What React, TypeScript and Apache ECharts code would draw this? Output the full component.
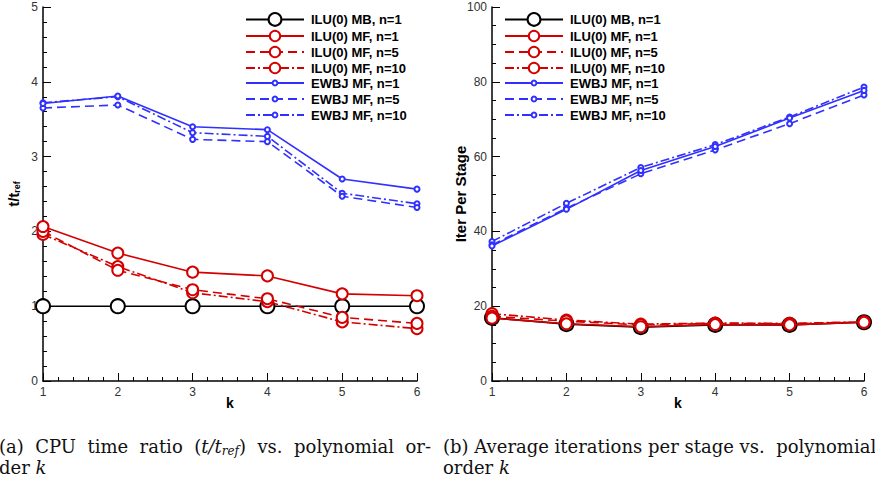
import React, { useEffect, useRef } from "react";
import * as echarts from "echarts";

const K = [1, 2, 3, 4, 5, 6];

// (a) CPU time ratio
const a_iluMB1 = [1.0, 1.0, 1.0, 1.0, 1.0, 1.0];
const a_iluMF1 = [2.065, 1.71, 1.455, 1.405, 1.165, 1.14];
const a_iluMF5 = [2.0, 1.48, 1.22, 1.1, 0.85, 0.77];
const a_iluMF10 = [1.96, 1.53, 1.18, 1.06, 0.79, 0.7];
const a_ewbj1 = [3.71, 3.81, 3.4, 3.36, 2.7, 2.565];
const a_ewbj5 = [3.65, 3.69, 3.23, 3.2, 2.47, 2.32];
const a_ewbj10 = [3.72, 3.8, 3.32, 3.27, 2.51, 2.37];

// (b) Iterations per stage
const b_iluMB1 = [16.9, 15.2, 14.4, 15.0, 15.0, 15.7];
const b_iluMF1 = [16.8, 15.3, 14.5, 15.1, 15.0, 15.7];
const b_iluMF5 = [17.3, 16.0, 15.0, 15.4, 15.3, 15.8];
const b_iluMF10 = [18.0, 16.3, 15.2, 15.5, 15.4, 15.8];
const b_ewbj1 = [36.1, 45.9, 56.3, 62.7, 70.3, 77.7];
const b_ewbj5 = [36.4, 46.2, 55.4, 61.8, 68.8, 76.5];
const b_ewbj10 = [37.3, 47.5, 57.1, 63.2, 70.6, 78.6];

const NAMES = [
  "ILU(0) MB, n=1",
  "ILU(0) MF, n=1",
  "ILU(0) MF, n=5",
  "ILU(0) MF, n=10",
  "EWBJ MF, n=1",
  "EWBJ MF, n=5",
  "EWBJ MF, n=10",
];

const RED = "#d40000";
const BLUE = "#3030ff";
const BLACK = "#000000";
const DASH = [9, 5];
const DASHDOT = [9, 3, 2, 3];

const STYLES = [
  { color: BLACK, type: "solid", symbol: "emptyCircle", size: 14, z: 2 },
  { color: RED, type: "solid", symbol: "emptyCircle", size: 11, z: 6 },
  { color: RED, type: DASH, symbol: "emptyCircle", size: 11, z: 5 },
  { color: RED, type: DASHDOT, symbol: "emptyCircle", size: 11, z: 4 },
  { color: BLUE, type: "solid", symbol: "emptyCircle", size: 5, z: 9 },
  { color: BLUE, type: DASH, symbol: "emptyCircle", size: 5, z: 8 },
  { color: BLUE, type: DASHDOT, symbol: "emptyCircle", size: 5, z: 7 },
];

const SANS = "'Liberation Sans', Arial, Helvetica, sans-serif";
const SERIF = "'DejaVu Serif'";

function mkSeries(sets: number[][], gi: number) {
  return sets.map((vals, i) => {
    const s = STYLES[i];
    return {
      name: NAMES[i],
      type: "line",
      xAxisIndex: gi,
      yAxisIndex: gi,
      data: K.map((k, j) => [k, vals[j]]),
      symbol: s.symbol,
      symbolSize: s.size,
      showAllSymbol: true,
      clip: false,
      z: s.z,
      lineStyle: { color: s.color, width: 1.6, type: s.type },
      itemStyle: { color: s.color, borderColor: s.color, borderWidth: 1.6 },
      emphasis: { disabled: true },
    };
  });
}

function mkLegends(left: number) {
  const base = {
    orient: "vertical",
    left,
    itemWidth: 58,
    itemGap: 2,
    selectedMode: false,
    textStyle: {
      fontFamily: SANS,
      fontWeight: "bold",
      fontSize: 13,
      color: "#000",
      lineHeight: 14,
      padding: [0, 0, 0, 2],
    },
    padding: 0,
  };
  return [
    { ...base, top: 12, itemHeight: 16, data: [NAMES[0]] },
    { ...base, top: 29, itemHeight: 13, data: [NAMES[1], NAMES[2], NAMES[3]] },
    { ...base, top: 76, itemHeight: 6, data: [NAMES[4], NAMES[5], NAMES[6]] },
  ];
}

function mkX(gi: number) {
  return {
    type: "value",
    gridIndex: gi,
    min: 1,
    max: 6,
    interval: 1,
    name: "k",
    nameLocation: "middle",
    nameGap: 15,
    nameMoveOverlap: false,
    nameTextStyle: { fontFamily: SANS, fontWeight: "bold", fontSize: 14, color: "#000" },
    axisLine: { show: true, lineStyle: { color: "#000", width: 1.5 } },
    axisTick: { show: true, inside: true, length: 8, lineStyle: { color: "#000", width: 1 } },
    minorTick: { show: true, splitNumber: 5, length: 4, lineStyle: { color: "#000", width: 1 } },
    axisLabel: { fontFamily: SANS, fontSize: 12, color: "#333", margin: 5 },
    splitLine: { show: false },
  };
}

function mkY(gi: number, max: number, interval: number, minorSplit: number, name: any, gap: number) {
  return {
    type: "value",
    gridIndex: gi,
    min: 0,
    max,
    interval,
    name,
    nameLocation: "middle",
    nameGap: gap,
    nameMoveOverlap: false,
    nameTextStyle: {
      fontFamily: SANS,
      fontWeight: "bold",
      fontSize: 15,
      color: "#000",
      rich: {
        a: { fontFamily: SANS, fontWeight: "bold", fontSize: 15, color: "#000" },
        b: { fontFamily: SANS, fontWeight: "bold", fontSize: 9, color: "#000", padding: [7, 0, 0, 0] },
      },
    },
    axisLine: { show: true, onZero: false, lineStyle: { color: "#000", width: 1.5 } },
    axisTick: { show: true, inside: true, length: 8, lineStyle: { color: "#000", width: 1 } },
    minorTick: { show: true, splitNumber: minorSplit, length: 4, lineStyle: { color: "#000", width: 1 } },
    axisLabel: { fontFamily: SANS, fontSize: 12, color: "#333", margin: 5 },
    splitLine: { show: false },
  };
}

export default function App() {
  const ref = useRef<HTMLDivElement>(null);
  useEffect(() => {
    if (!ref.current) return;
    const chart = echarts.init(ref.current, undefined, { renderer: "svg" });
    const FS = 18;
    const capStyle = { fontFamily: SERIF, fontSize: FS, fill: "#111" };
    const capRich = {
      i: { fontFamily: SERIF, fontStyle: "italic", fontSize: FS, color: "#111" },
      s: { fontFamily: SERIF, fontStyle: "italic", fontSize: 12, color: "#111", padding: [9, 0, 0, 0] },
    };
    chart.setOption({
      animation: false,
      backgroundColor: "#fff",
      grid: [
        { left: 43, top: 7, width: 374, height: 374 },
        { left: 492, top: 7, width: 372, height: 374 },
      ],
      xAxis: [mkX(0), mkX(1)],
      yAxis: [
        mkY(0, 5, 1, 5, "{a|t/t}{b|ref}", 22),
        mkY(1, 100, 20, 4, "Iter Per Stage", 24),
      ],
      legend: [...mkLegends(245), ...mkLegends(504)],
      series: [
        ...mkSeries([a_iluMB1, a_iluMF1, a_iluMF5, a_iluMF10, a_ewbj1, a_ewbj5, a_ewbj10], 0),
        ...mkSeries([b_iluMB1, b_iluMF1, b_iluMF5, b_iluMF10, b_ewbj1, b_ewbj5, b_ewbj10], 1),
      ],
      graphic: [
        {
          type: "text",
          left: -1,
          top: 437,
          style: {
            ...capStyle,
            text: "(a)  CPU  time  ratio  ({i|t/t}{s|ref})  vs.  polynomial  or-",
            rich: capRich,
          },
        },
        {
          type: "text",
          left: -1,
          top: 458,
          style: { ...capStyle, text: "der {i|k}", rich: capRich },
        },
        {
          type: "text",
          left: 443,
          top: 437,
          style: { ...capStyle, text: "(b) Average iterations per stage vs.  polynomial", rich: capRich },
        },
        {
          type: "text",
          left: 443,
          top: 458,
          style: { ...capStyle, text: "order {i|k}", rich: capRich },
        },
      ],
    });
    return () => chart.dispose();
  }, []);
  return (
    <div
      ref={ref}
      style={{ position: "fixed", left: 0, top: 0, width: 875, height: 480, background: "#fff" }}
    />
  );
}
